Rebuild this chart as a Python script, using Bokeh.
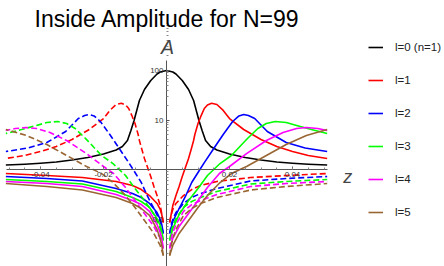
from bokeh.plotting import figure
from bokeh.models import (Range1d, FixedTicker, CustomJSTickFormatter, Label,
                          Legend, LegendItem)
from bokeh.embed import file_html
from bokeh.resources import INLINE

# ---------------- data ----------------
title_text = "Inside Amplitude for N=99"
labels = ["l=0 (n=1)", "l=1", "l=2", "l=3", "l=4", "l=5"]
colors = ["#000000", "#FF0000", "#0000FF", "#00FF00", "#FF00FF", "#996633"]

# l=0 : symmetric peak, values for z >= 0
z_l0 = [0, .002, .003, .005, .007, .0086, .0103, .0113, .0124, .014, .016,
        .018, .020, .025, .030, .035, .040, .045, .051]
A_l0 = [100, 93.3, 85.0, 62.8, 41.3, 24.8, 9.77, 6.14, 3.85, 2.91, 2.48,
        2.26, 2.06, 1.75, 1.56, 1.42, 1.34, 1.28, 1.23]

# upper branches (solid for z>0, dashed mirror for z<0)
z_up_1 = [.001, .002, .003, .004, .005, .006, .007, .008, .0086, .009, .010, .011, .012,
          .013, .0143, .016, .018, .020, .0245, .030, .035, .040, .045, .051]
A_up_1 = [0.085, 0.187, 0.298, 0.454, 0.722, 1.10, 1.67, 2.78, 3.85, 5.09, 8.5, 12.3, 17.1,
          20.1, 21.8, 20.6, 15.6, 10.7, 6.43, 4.04, 2.91, 2.31, 1.92, 1.67]
z_up_2 = [.001, .002, .004, .006, .008, .010, .012, .015, .018, .021, .023, .0245, .026,
          .028, .032, .038, .044, .051]
A_up_2 = [0.051, 0.089, 0.163, 0.285, 0.546, 0.87, 1.38, 2.66, 5.09, 9.33, 12.1, 12.9, 12.3,
          10.7, 5.86, 3.51, 2.72, 2.31]
z_up_3 = [.001, .002, .004, .007, .010, .013, .017, .0206, .023, .0257, .029, .0317,
          .0345, .038, .0413, .046, .051]
A_up_3 = [0.0368, 0.0643, 0.123, 0.236, 0.413, 0.756, 1.32, 1.92, 2.78, 4.23, 6.73, 8.5,
          9.33, 8.9, 7.74, 6.43, 5.34]
z_up_4 = [.001, .002, .004, .007, .010, .013, .0168, .020, .0254, .0317, .037, .0413,
          .0444, .048, .051]
A_up_4 = [0.0254, 0.0404, 0.0705, 0.129, 0.236, 0.433, 0.83, 1.15, 2.10, 3.85, 5.59, 6.73,
          7.05, 6.73, 6.14]
z_up_5 = [.001, .002, .004, .007, .010, .013, .017, .0206, .0254, .0317, .038, .0444, .051]
A_up_5 = [0.0183, 0.0292, 0.051, 0.0933, 0.171, 0.298, 0.546, 0.83, 1.15, 1.92, 3.20,
          4.86, 6.43]

# lower branches (solid for z<0, dashed mirror for z>0), given at |z|
z_lo = [.001, .0015, .002, .003, .0054, .008, .0108, .016, .0267, .038, .051]
A_lo_1 = [0.085, 0.123, 0.156, 0.206, 0.298, 0.394, 0.475, 0.573, 0.689, 0.756, 0.83]
A_lo_2 = [0.051, 0.0774, 0.0977, 0.135, 0.206, 0.272, 0.327, 0.413, 0.586, 0.658, 0.722]
A_lo_3 = [0.0368, 0.0559, 0.0739, 0.102, 0.171, 0.226, 0.272, 0.36, 0.509, 0.573, 0.628]
A_lo_4 = [0.0254, 0.0404, 0.0534, 0.0774, 0.142, 0.196, 0.236, 0.312, 0.454, 0.521, 0.573]
A_lo_5 = [0.0183, 0.0292, 0.0404, 0.0614, 0.118, 0.163, 0.206, 0.272, 0.385, 0.454, 0.521]

x_major = [-0.04, -0.02, 0.02, 0.04]
x_minor = [round(-0.05 + 0.005 * i, 3) for i in range(21)]
y_major = [0.1, 10, 100]
y_minor = [k * 10.0 ** e for e in range(-2, 3) for k in range(2, 10)]

upper = [(z_up_1, A_up_1), (z_up_2, A_up_2), (z_up_3, A_up_3), (z_up_4, A_up_4), (z_up_5, A_up_5)]
lower = [A_lo_1, A_lo_2, A_lo_3, A_lo_4, A_lo_5]

FONT = "Liberation Sans"

p = figure(frame_width=444, frame_height=266, output_backend="svg", toolbar_location=None,
           x_range=Range1d(-0.0527, 0.08825), y_range=Range1d(0.01098, 2596),
           y_axis_type="log", min_border=0)
p.outline_line_color = None
p.xgrid.visible = False
p.ygrid.visible = False
p.background_fill_color = "white"
p.border_fill_color = "white"

fmt = CustomJSTickFormatter(code="return String(tick)")
for ax in (p.xaxis[0], p.yaxis[0]):
    ax.axis_line_color = "#555555"
    ax.major_tick_line_color = "#555555"
    ax.minor_tick_line_color = "#888888"
    ax.major_tick_in = 3
    ax.major_tick_out = 0
    ax.minor_tick_in = 2
    ax.minor_tick_out = 0
    ax.major_label_text_font = FONT
    ax.major_label_text_font_size = "8px"
    ax.major_label_text_color = "#333333"
    ax.formatter = fmt
p.xaxis[0].fixed_location = 1
p.yaxis[0].fixed_location = 0
p.xaxis[0].bounds = (-0.0508, 0.0511)
p.yaxis[0].bounds = (0.01098, 159.2)
p.xaxis[0].ticker = FixedTicker(ticks=x_major, minor_ticks=x_minor)
p.yaxis[0].ticker = FixedTicker(ticks=y_major, minor_ticks=y_minor)
p.xaxis[0].major_label_standoff = 2
p.yaxis[0].major_label_standoff = 3

LW = 1.6
items = []
z0 = [-z for z in reversed(z_l0[1:])] + z_l0
A0 = list(reversed(A_l0[1:])) + A_l0
r0 = p.line(z0, A0, line_color=colors[0], line_width=LW, line_join="round")
items.append(LegendItem(label=labels[0], renderers=[r0]))

for i in range(5):
    c = colors[i + 1]
    zu, Au = upper[i]
    Al = lower[i]
    rs = p.line(zu, Au, line_color=c, line_width=LW, line_join="round")
    p.line([-z for z in z_lo], Al, line_color=c, line_width=LW, line_join="round")
    p.line([-z for z in zu], Au, line_color=c, line_width=LW, line_dash="6 3")
    p.line(z_lo, Al, line_color=c, line_width=LW, line_dash="6 3")
    items.append(LegendItem(label=labels[i + 1], renderers=[rs]))

legend = Legend(items=items, location=(368, 44), padding=0, spacing=13,
                glyph_width=15, glyph_height=20, label_height=20, label_standoff=12,
                label_text_font=FONT, label_text_font_size="11.5px",
                label_text_color="#222222", border_line_color=None,
                background_fill_alpha=0, margin=0)
p.add_layout(legend, "center")

p.add_layout(Label(x=0.0002, y=1097, text=title_text, text_align="center",
                   text_baseline="alphabetic", text_font=FONT,
                   text_font_size="23px", text_color="#000000"))
p.add_layout(Label(x=0.0003, y=292, text="A", text_align="center",
                   text_baseline="alphabetic", text_font=FONT,
                   text_font_style="italic", text_font_size="19.5px"))
p.add_layout(Label(x=0.0575, y=0.69, text="z", text_align="center",
                   text_baseline="alphabetic", text_font=FONT,
                   text_font_style="italic", text_font_size="18px"))

open("out.html", "w").write(file_html(p, INLINE))
